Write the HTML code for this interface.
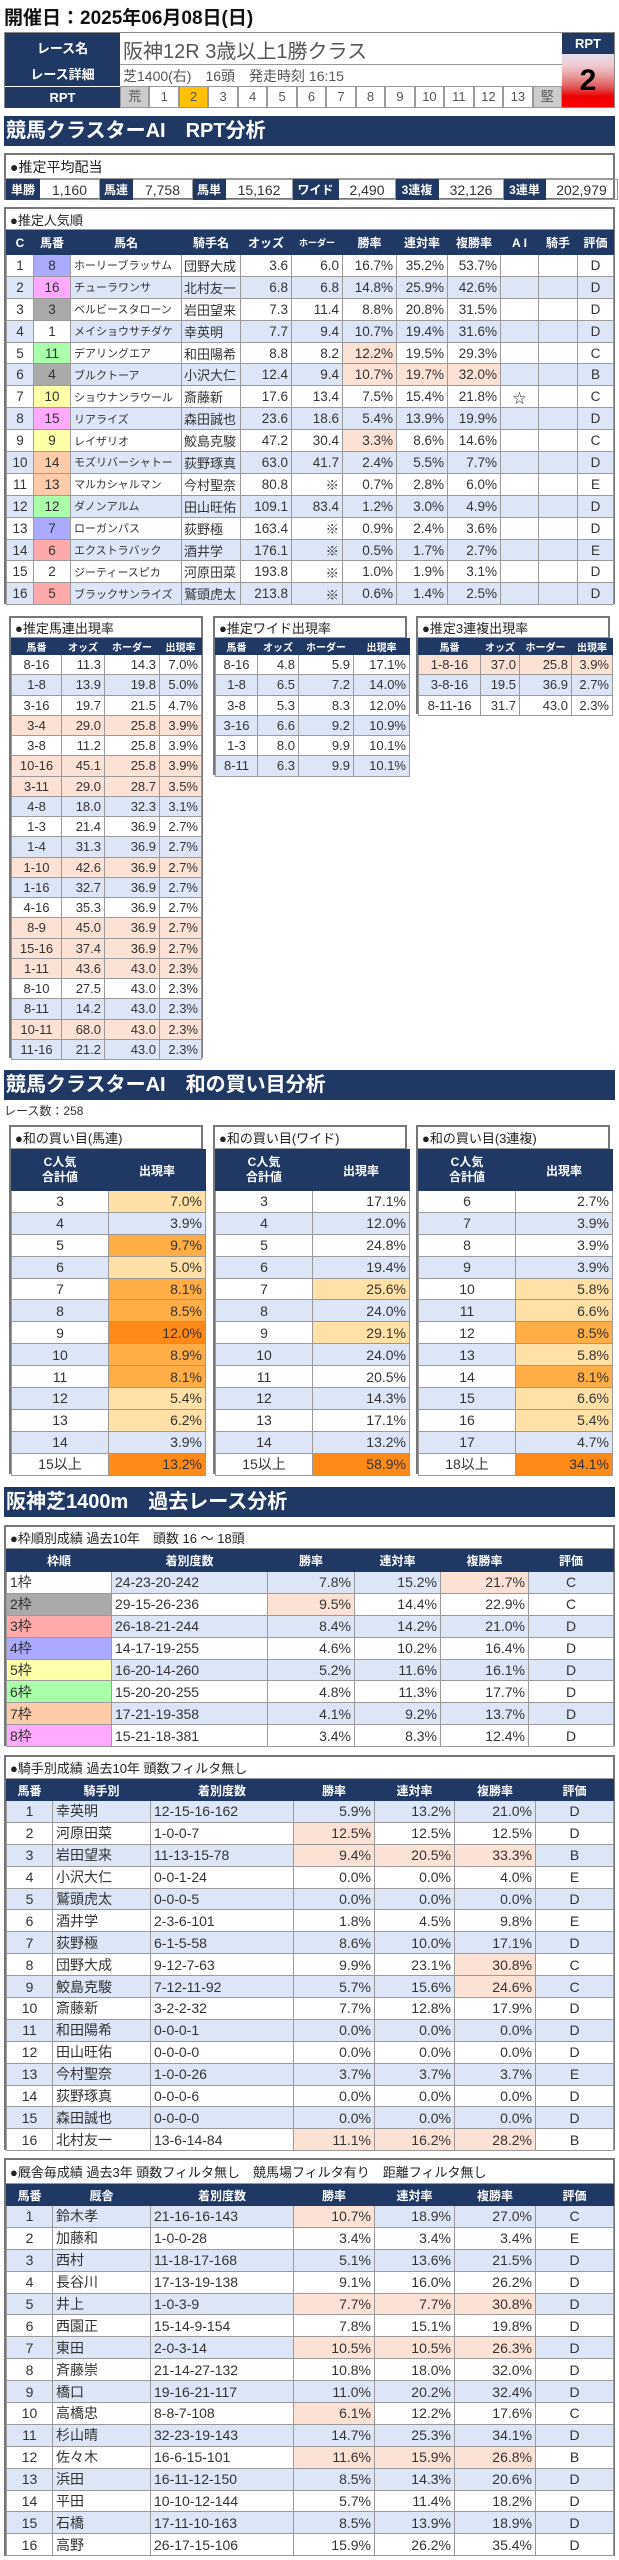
<!DOCTYPE html>
<html><head><meta charset="utf-8"><style>
body{margin:0;width:619px;height:2560px;position:relative;font-family:"Liberation Sans","Noto Sans CJK JP",sans-serif;background:#fff;color:#333;overflow:hidden}
.a{position:absolute}
table{border-collapse:collapse;table-layout:fixed;width:100%}
td,th{border:1px solid #9a9a9a;padding:0 3px;white-space:nowrap;overflow:hidden;font-size:14px;text-align:right;font-weight:normal}
th{background:#203864;color:#fff;font-weight:bold;font-size:12px;text-align:center;border-color:#203864}
.box{position:absolute;border:2px solid #777;box-sizing:border-box;background:#fff}
.t{font-size:13px;padding-left:4px;box-sizing:border-box;border-bottom:1px solid #999;color:#222;display:flex;align-items:center}
.bar{position:absolute;left:4px;width:611px;height:30px;background:#203864;color:#fff;font-weight:bold;font-size:20px;line-height:30px;padding-left:2px;box-sizing:border-box}
.c{text-align:center}.l{text-align:left}
.b td{background:#dce6f7}.w td{background:#fff}
td.s{background:#fbe2d5}
td.f1{background:#fff}td.f2{background:#aaa}td.f3{background:#faa}td.f4{background:#aaf}td.f5{background:#ffa}td.f6{background:#afa}td.f7{background:#fca}td.f8{background:#faf}
td.p{background:#ffe0a6}td.m{background:#ffad47}td.d{background:#ff8a18}
.mt td{font-size:13.5px}
.mt td.l{font-size:13px;padding:0 2px}
.mt td.n{font-size:11px;text-align:left}
.sm th{font-size:10px}
.sm td{font-size:13px}
</style></head><body>

<div class="a" style="left:4px;top:3px;font-size:19px;font-weight:bold;color:#111">開催日：2025年06月08日(日)</div>

<div class="a" style="left:4px;top:32px;width:611px;height:76px;border:1px solid #888;box-sizing:border-box">
 <div class="a" style="left:0;top:0;width:115px;height:31px;background:#203864;color:#fff;font-weight:bold;font-size:13px;text-align:center;line-height:31px;border-bottom:1px solid #fff">レース名</div>
 <div class="a" style="left:0;top:31px;width:115px;height:22px;background:#203864;color:#fff;font-weight:bold;font-size:13px;text-align:center;line-height:22px;border-bottom:1px solid #fff">レース詳細</div>
 <div class="a" style="left:0;top:54px;width:115px;height:21px;background:#203864;color:#fff;font-weight:bold;font-size:13px;text-align:center;line-height:21px">RPT</div>
 <div class="a" style="left:118px;top:2px;font-size:20px;color:#555">阪神12R 3歳以上1勝クラス</div>
 <div class="a" style="left:115px;top:31px;width:442px;height:0;border-top:1px solid #999"></div>
 <div class="a" style="left:118px;top:33px;font-size:14px;color:#555;white-space:pre">芝1400(右)　16頭　発走時刻 16:15</div>
 <div class="a" style="left:115px;top:53px;width:442px;height:22px;display:flex">
  <div style="flex:1;background:#ccc;border:1px solid #999;font-size:13px;text-align:center;line-height:20px;color:#555">荒</div>
  <div style="flex:1;border:1px solid #999;font-size:13px;text-align:center;line-height:20px;color:#555">1</div>
  <div style="flex:1;background:#ffc000;border:1px solid #999;font-size:13px;text-align:center;line-height:20px;color:#555">2</div>
  <div style="flex:1;border:1px solid #999;font-size:13px;text-align:center;line-height:20px;color:#555">3</div>
  <div style="flex:1;border:1px solid #999;font-size:13px;text-align:center;line-height:20px;color:#555">4</div>
  <div style="flex:1;border:1px solid #999;font-size:13px;text-align:center;line-height:20px;color:#555">5</div>
  <div style="flex:1;border:1px solid #999;font-size:13px;text-align:center;line-height:20px;color:#555">6</div>
  <div style="flex:1;border:1px solid #999;font-size:13px;text-align:center;line-height:20px;color:#555">7</div>
  <div style="flex:1;border:1px solid #999;font-size:13px;text-align:center;line-height:20px;color:#555">8</div>
  <div style="flex:1;border:1px solid #999;font-size:13px;text-align:center;line-height:20px;color:#555">9</div>
  <div style="flex:1;border:1px solid #999;font-size:13px;text-align:center;line-height:20px;color:#555">10</div>
  <div style="flex:1;border:1px solid #999;font-size:13px;text-align:center;line-height:20px;color:#555">11</div>
  <div style="flex:1;border:1px solid #999;font-size:13px;text-align:center;line-height:20px;color:#555">12</div>
  <div style="flex:1;border:1px solid #999;font-size:13px;text-align:center;line-height:20px;color:#555">13</div>
  <div style="flex:1;background:#ccc;border:1px solid #999;font-size:13px;text-align:center;line-height:20px;color:#555">堅</div>
 </div>
 <div class="a" style="left:557px;top:0;width:52px;height:21px;background:#203864;color:#fff;font-weight:bold;font-size:13px;text-align:center;line-height:21px">RPT</div>
 <div class="a" style="left:557px;top:21px;width:52px;height:53px;background:linear-gradient(#e4dcec 0%,#f0c8d0 22%,#e8a0a0 40%,#e05a5a 62%,#ee0000 80%,#ff0000 100%);color:#000;font-weight:bold;font-size:30px;text-align:center;line-height:53px">2</div>
</div>

<div class="bar" style="top:116px">競馬クラスターAI　RPT分析</div>

<div class="box" style="left:4px;top:153px;width:611px;height:47px">
 <div class="t" style="height:24px;font-size:14px">●推定平均配当</div>
 <table style="height:21px"><colgroup><col style="width:33px"><col style="width:60px"><col style="width:33px"><col style="width:60px"><col style="width:33px"><col style="width:67px"><col style="width:46px"><col style="width:57px"><col style="width:43px"><col style="width:65px"><col style="width:42px"><col style="width:72px"></colgroup>
 <tr><th>単勝</th><td class="c" style="font-size:14px">1,160</td><th>馬連</th><td class="c" style="font-size:14px">7,758</td><th>馬単</th><td class="c" style="font-size:14px">15,162</td><th>ワイド</th><td class="c" style="font-size:14px">2,490</td><th>3連複</th><td class="c" style="font-size:14px">32,126</td><th>3連単</th><td class="c" style="font-size:14px">202,979</td></tr></table>
</div>

<div class="box mt" style="left:4px;top:207px;width:611px;height:397px">
 <div class="t" style="height:21px">●推定人気順</div>
 <table><colgroup><col style="width:27px"><col style="width:37px"><col style="width:111px"><col style="width:59px"><col style="width:51px"><col style="width:51px"><col style="width:54px"><col style="width:51px"><col style="width:53px"><col style="width:38px"><col style="width:39px"><col style="width:36px"></colgroup>
 <tr style="height:24px"><th>C</th><th>馬番</th><th>馬名</th><th>騎手名</th><th>オッズ</th><th style="font-size:9px">ホーダー</th><th>勝率</th><th>連対率</th><th>複勝率</th><th>A I</th><th>騎手</th><th>評価</th></tr>
 <tr class="w" style="height:21.9px"><td class="c">1</td><td class="c f4">8</td><td class="n">ホーリーブラッサム</td><td class="l">団野大成</td><td>3.6</td><td>6.0</td><td>16.7%</td><td>35.2%</td><td>53.7%</td><td></td><td></td><td class="c">D</td></tr>
 <tr class="b" style="height:21.9px"><td class="c">2</td><td class="c f8">16</td><td class="n">チューラワンサ</td><td class="l">北村友一</td><td>6.8</td><td>6.8</td><td>14.8%</td><td>25.9%</td><td>42.6%</td><td></td><td></td><td class="c">D</td></tr>
 <tr class="w" style="height:21.9px"><td class="c">3</td><td class="c f2">3</td><td class="n">ベルビースタローン</td><td class="l">岩田望来</td><td>7.3</td><td>11.4</td><td>8.8%</td><td>20.8%</td><td>31.5%</td><td></td><td></td><td class="c">D</td></tr>
 <tr class="b" style="height:21.9px"><td class="c">4</td><td class="c f1">1</td><td class="n">メイショウサチダケ</td><td class="l">幸英明</td><td>7.7</td><td>9.4</td><td>10.7%</td><td>19.4%</td><td>31.6%</td><td></td><td></td><td class="c">D</td></tr>
 <tr class="w" style="height:21.9px"><td class="c">5</td><td class="c f6">11</td><td class="n">デアリングエア</td><td class="l">和田陽希</td><td>8.8</td><td>8.2</td><td class="s">12.2%</td><td>19.5%</td><td>29.3%</td><td></td><td></td><td class="c">C</td></tr>
 <tr class="b" style="height:21.9px"><td class="c">6</td><td class="c f2">4</td><td class="n">ブルクトーア</td><td class="l">小沢大仁</td><td>12.4</td><td>9.4</td><td class="s">10.7%</td><td class="s">19.7%</td><td class="s">32.0%</td><td></td><td></td><td class="c">B</td></tr>
 <tr class="w" style="height:21.9px"><td class="c">7</td><td class="c f5">10</td><td class="n">ショウナンラウール</td><td class="l">斎藤新</td><td>17.6</td><td>13.4</td><td>7.5%</td><td>15.4%</td><td>21.8%</td><td class="c">☆</td><td></td><td class="c">C</td></tr>
 <tr class="b" style="height:21.9px"><td class="c">8</td><td class="c f8">15</td><td class="n">リアライズ</td><td class="l">森田誠也</td><td>23.6</td><td>18.6</td><td>5.4%</td><td>13.9%</td><td>19.9%</td><td></td><td></td><td class="c">D</td></tr>
 <tr class="w" style="height:21.9px"><td class="c">9</td><td class="c f5">9</td><td class="n">レイザリオ</td><td class="l">鮫島克駿</td><td>47.2</td><td>30.4</td><td class="s">3.3%</td><td>8.6%</td><td>14.6%</td><td></td><td></td><td class="c">C</td></tr>
 <tr class="b" style="height:21.9px"><td class="c">10</td><td class="c f7">14</td><td class="n">モズリバーシャトー</td><td class="l">荻野琢真</td><td>63.0</td><td>41.7</td><td>2.4%</td><td>5.5%</td><td>7.7%</td><td></td><td></td><td class="c">D</td></tr>
 <tr class="w" style="height:21.9px"><td class="c">11</td><td class="c f7">13</td><td class="n">マルカシャルマン</td><td class="l">今村聖奈</td><td>80.8</td><td>※</td><td>0.7%</td><td>2.8%</td><td>6.0%</td><td></td><td></td><td class="c">E</td></tr>
 <tr class="b" style="height:21.9px"><td class="c">12</td><td class="c f6">12</td><td class="n">ダノンアルム</td><td class="l">田山旺佑</td><td>109.1</td><td>83.4</td><td>1.2%</td><td>3.0%</td><td>4.9%</td><td></td><td></td><td class="c">D</td></tr>
 <tr class="w" style="height:21.9px"><td class="c">13</td><td class="c f4">7</td><td class="n">ローガンパス</td><td class="l">荻野極</td><td>163.4</td><td>※</td><td>0.9%</td><td>2.4%</td><td>3.6%</td><td></td><td></td><td class="c">D</td></tr>
 <tr class="b" style="height:21.9px"><td class="c">14</td><td class="c f3">6</td><td class="n">エクストラバック</td><td class="l">酒井学</td><td>176.1</td><td>※</td><td>0.5%</td><td>1.7%</td><td>2.7%</td><td></td><td></td><td class="c">E</td></tr>
 <tr class="w" style="height:21.9px"><td class="c">15</td><td class="c f1">2</td><td class="n">ジーティースピカ</td><td class="l">河原田菜</td><td>193.8</td><td>※</td><td>1.0%</td><td>1.9%</td><td>3.1%</td><td></td><td></td><td class="c">D</td></tr>
 <tr class="b" style="height:21.9px"><td class="c">16</td><td class="c f3">5</td><td class="n">ブラックサンライズ</td><td class="l">鷲頭虎太</td><td>213.8</td><td>※</td><td>0.6%</td><td>1.4%</td><td>2.5%</td><td></td><td></td><td class="c">D</td></tr>
 </table>
</div>

<div class="box sm" style="left:9px;top:616px;width:194px;height:442px">
 <div class="t" style="height:20px">●推定馬連出現率</div>
 <table><colgroup><col style="width:50px"><col style="width:43px"><col style="width:55px"><col style="width:42px"></colgroup>
 <tr style="height:16px"><th>馬番</th><th>オッズ</th><th>ホーダー</th><th>出現率</th></tr>
 <tr class="w" style="height:20.25px"><td class="c">8-16</td><td>11.3</td><td>14.3</td><td>7.0%</td></tr>
 <tr class="b" style="height:20.25px"><td class="c">1-8</td><td>13.9</td><td>19.8</td><td>5.0%</td></tr>
 <tr class="w" style="height:20.25px"><td class="c">3-16</td><td>19.7</td><td>21.5</td><td>4.7%</td></tr>
 <tr style="height:20.25px"><td class="c s">3-4</td><td class="s">29.0</td><td class="s">25.8</td><td class="s">3.9%</td></tr>
 <tr class="w" style="height:20.25px"><td class="c">3-8</td><td>11.2</td><td>25.8</td><td>3.9%</td></tr>
 <tr style="height:20.25px"><td class="c s">10-16</td><td class="s">45.1</td><td class="s">25.8</td><td class="s">3.9%</td></tr>
 <tr style="height:20.25px"><td class="c s">3-11</td><td class="s">29.0</td><td class="s">28.7</td><td class="s">3.5%</td></tr>
 <tr class="b" style="height:20.25px"><td class="c">4-8</td><td>18.0</td><td>32.3</td><td>3.1%</td></tr>
 <tr class="w" style="height:20.25px"><td class="c">1-3</td><td>21.4</td><td>36.9</td><td>2.7%</td></tr>
 <tr class="b" style="height:20.25px"><td class="c">1-4</td><td>31.3</td><td>36.9</td><td>2.7%</td></tr>
 <tr style="height:20.25px"><td class="c s">1-10</td><td class="s">42.6</td><td class="s">36.9</td><td class="s">2.7%</td></tr>
 <tr class="b" style="height:20.25px"><td class="c">1-16</td><td>32.7</td><td>36.9</td><td>2.7%</td></tr>
 <tr class="w" style="height:20.25px"><td class="c">4-16</td><td>35.3</td><td>36.9</td><td>2.7%</td></tr>
 <tr style="height:20.25px"><td class="c s">8-9</td><td class="s">45.0</td><td class="s">36.9</td><td class="s">2.7%</td></tr>
 <tr style="height:20.25px"><td class="c s">15-16</td><td class="s">37.4</td><td class="s">36.9</td><td class="s">2.7%</td></tr>
 <tr style="height:20.25px"><td class="c s">1-11</td><td class="s">43.6</td><td class="s">43.0</td><td class="s">2.3%</td></tr>
 <tr class="w" style="height:20.25px"><td class="c">8-10</td><td>27.5</td><td>43.0</td><td>2.3%</td></tr>
 <tr class="b" style="height:20.25px"><td class="c">8-11</td><td>14.2</td><td>43.0</td><td>2.3%</td></tr>
 <tr style="height:20.25px"><td class="c s">10-11</td><td class="s">68.0</td><td class="s">43.0</td><td class="s">2.3%</td></tr>
 <tr class="b" style="height:20.25px"><td class="c">11-16</td><td>21.2</td><td>43.0</td><td>2.3%</td></tr>
 </table>
</div>
<div class="box sm" style="left:213px;top:616px;width:194px;height:159px">
 <div class="t" style="height:20px">●推定ワイド出現率</div>
 <table><colgroup><col style="width:42px"><col style="width:41px"><col style="width:55px"><col style="width:56px"></colgroup>
 <tr style="height:16px"><th>馬番</th><th>オッズ</th><th>ホーダー</th><th>出現率</th></tr>
 <tr class="w" style="height:20.25px"><td class="c">8-16</td><td>4.8</td><td>5.9</td><td>17.1%</td></tr>
 <tr class="b" style="height:20.25px"><td class="c">1-8</td><td>6.5</td><td>7.2</td><td>14.0%</td></tr>
 <tr class="w" style="height:20.25px"><td class="c">3-8</td><td>5.3</td><td>8.3</td><td>12.0%</td></tr>
 <tr class="b" style="height:20.25px"><td class="c">3-16</td><td>6.6</td><td>9.2</td><td>10.9%</td></tr>
 <tr class="w" style="height:20.25px"><td class="c">1-3</td><td>8.0</td><td>9.9</td><td>10.1%</td></tr>
 <tr class="b" style="height:20.25px"><td class="c">8-11</td><td>6.3</td><td>9.9</td><td>10.1%</td></tr>
 </table>
</div>
<div class="box sm" style="left:416px;top:616px;width:194px;height:98px">
 <div class="t" style="height:20px">●推定3連複出現率</div>
 <table><colgroup><col style="width:62px"><col style="width:39px"><col style="width:52px"><col style="width:41px"></colgroup>
 <tr style="height:16px"><th>馬番</th><th>オッズ</th><th>ホーダー</th><th>出現率</th></tr>
 <tr style="height:20.25px"><td class="c s">1-8-16</td><td class="s">37.0</td><td class="s">25.8</td><td class="s">3.9%</td></tr>
 <tr class="b" style="height:20.25px"><td class="c">3-8-16</td><td>19.5</td><td>36.9</td><td>2.7%</td></tr>
 <tr class="w" style="height:20.25px"><td class="c">8-11-16</td><td>31.7</td><td>43.0</td><td>2.3%</td></tr>
 </table>
</div>

<div class="bar" style="top:1070px">競馬クラスターAI　和の買い目分析</div>
<div class="a" style="left:4px;top:1102px;font-size:12px;color:#333">レース数：258</div>

<div class="box" style="left:9px;top:1125px;width:194px;height:349px">
 <div class="t" style="height:22px">●和の買い目(馬連)</div>
 <table><colgroup><col style="width:97px"><col style="width:97px"></colgroup>
 <tr style="height:41px"><th style="line-height:15px">C人気<br>合計値</th><th>出現率</th></tr>
 <tr class="w" style="height:21.9px"><td class="c">3</td><td class="p">7.0%</td></tr>
 <tr class="b" style="height:21.9px"><td class="c">4</td><td>3.9%</td></tr>
 <tr class="w" style="height:21.9px"><td class="c">5</td><td class="m">9.7%</td></tr>
 <tr class="b" style="height:21.9px"><td class="c">6</td><td class="p">5.0%</td></tr>
 <tr class="w" style="height:21.9px"><td class="c">7</td><td class="m">8.1%</td></tr>
 <tr class="b" style="height:21.9px"><td class="c">8</td><td class="m">8.5%</td></tr>
 <tr class="w" style="height:21.9px"><td class="c">9</td><td class="d">12.0%</td></tr>
 <tr class="b" style="height:21.9px"><td class="c">10</td><td class="m">8.9%</td></tr>
 <tr class="w" style="height:21.9px"><td class="c">11</td><td class="m">8.1%</td></tr>
 <tr class="b" style="height:21.9px"><td class="c">12</td><td class="p">5.4%</td></tr>
 <tr class="w" style="height:21.9px"><td class="c">13</td><td class="p">6.2%</td></tr>
 <tr class="b" style="height:21.9px"><td class="c">14</td><td>3.9%</td></tr>
 <tr class="w" style="height:21.9px"><td class="c">15以上</td><td class="d">13.2%</td></tr>
 </table>
</div>
<div class="box" style="left:213px;top:1125px;width:194px;height:349px">
 <div class="t" style="height:22px">●和の買い目(ワイド)</div>
 <table><colgroup><col style="width:97px"><col style="width:97px"></colgroup>
 <tr style="height:41px"><th style="line-height:15px">C人気<br>合計値</th><th>出現率</th></tr>
 <tr class="w" style="height:21.9px"><td class="c">3</td><td>17.1%</td></tr>
 <tr class="b" style="height:21.9px"><td class="c">4</td><td>12.0%</td></tr>
 <tr class="w" style="height:21.9px"><td class="c">5</td><td>24.8%</td></tr>
 <tr class="b" style="height:21.9px"><td class="c">6</td><td>19.4%</td></tr>
 <tr class="w" style="height:21.9px"><td class="c">7</td><td class="p">25.6%</td></tr>
 <tr class="b" style="height:21.9px"><td class="c">8</td><td>24.0%</td></tr>
 <tr class="w" style="height:21.9px"><td class="c">9</td><td class="p">29.1%</td></tr>
 <tr class="b" style="height:21.9px"><td class="c">10</td><td>24.0%</td></tr>
 <tr class="w" style="height:21.9px"><td class="c">11</td><td>20.5%</td></tr>
 <tr class="b" style="height:21.9px"><td class="c">12</td><td>14.3%</td></tr>
 <tr class="w" style="height:21.9px"><td class="c">13</td><td>17.1%</td></tr>
 <tr class="b" style="height:21.9px"><td class="c">14</td><td>13.2%</td></tr>
 <tr class="w" style="height:21.9px"><td class="c">15以上</td><td class="d">58.9%</td></tr>
 </table>
</div>
<div class="box" style="left:416px;top:1125px;width:194px;height:349px">
 <div class="t" style="height:22px">●和の買い目(3連複)</div>
 <table><colgroup><col style="width:97px"><col style="width:97px"></colgroup>
 <tr style="height:41px"><th style="line-height:15px">C人気<br>合計値</th><th>出現率</th></tr>
 <tr class="w" style="height:21.9px"><td class="c">6</td><td>2.7%</td></tr>
 <tr class="b" style="height:21.9px"><td class="c">7</td><td>3.9%</td></tr>
 <tr class="w" style="height:21.9px"><td class="c">8</td><td>3.9%</td></tr>
 <tr class="b" style="height:21.9px"><td class="c">9</td><td>3.9%</td></tr>
 <tr class="w" style="height:21.9px"><td class="c">10</td><td class="p">5.8%</td></tr>
 <tr class="b" style="height:21.9px"><td class="c">11</td><td class="p">6.6%</td></tr>
 <tr class="w" style="height:21.9px"><td class="c">12</td><td class="m">8.5%</td></tr>
 <tr class="b" style="height:21.9px"><td class="c">13</td><td class="p">5.8%</td></tr>
 <tr class="w" style="height:21.9px"><td class="c">14</td><td class="m">8.1%</td></tr>
 <tr class="b" style="height:21.9px"><td class="c">15</td><td class="p">6.6%</td></tr>
 <tr class="w" style="height:21.9px"><td class="c">16</td><td class="p">5.4%</td></tr>
 <tr class="b" style="height:21.9px"><td class="c">17</td><td>4.7%</td></tr>
 <tr class="w" style="height:21.9px"><td class="c">18以上</td><td class="d">34.1%</td></tr>
 </table>
</div>

<div class="bar" style="top:1487px">阪神芝1400m　過去レース分析</div>

<div class="box" style="left:4px;top:1525px;width:611px;height:221px">
 <div class="t" style="height:22px">●枠順別成績 過去10年　頭数 16 ～ 18頭</div>
 <table><colgroup><col style="width:105px"><col style="width:156px"><col style="width:87px"><col style="width:86px"><col style="width:88px"><col style="width:85px"></colgroup>
 <tr style="height:22px"><th>枠順</th><th>着別度数</th><th>勝率</th><th>連対率</th><th>複勝率</th><th>評価</th></tr>
 <tr class="b" style="height:21.9px"><td class="l f1">1枠</td><td class="l">24-23-20-242</td><td>7.8%</td><td>15.2%</td><td class="s">21.7%</td><td class="c">C</td></tr>
 <tr class="w" style="height:21.9px"><td class="l f2">2枠</td><td class="l">29-15-26-236</td><td class="s">9.5%</td><td>14.4%</td><td>22.9%</td><td class="c">C</td></tr>
 <tr class="b" style="height:21.9px"><td class="l f3">3枠</td><td class="l">26-18-21-244</td><td>8.4%</td><td>14.2%</td><td>21.0%</td><td class="c">D</td></tr>
 <tr class="w" style="height:21.9px"><td class="l f4">4枠</td><td class="l">14-17-19-255</td><td>4.6%</td><td>10.2%</td><td>16.4%</td><td class="c">D</td></tr>
 <tr class="b" style="height:21.9px"><td class="l f5">5枠</td><td class="l">16-20-14-260</td><td>5.2%</td><td>11.6%</td><td>16.1%</td><td class="c">D</td></tr>
 <tr class="w" style="height:21.9px"><td class="l f6">6枠</td><td class="l">15-20-20-255</td><td>4.8%</td><td>11.3%</td><td>17.7%</td><td class="c">D</td></tr>
 <tr class="b" style="height:21.9px"><td class="l f7">7枠</td><td class="l">17-21-19-358</td><td>4.1%</td><td>9.2%</td><td>13.7%</td><td class="c">D</td></tr>
 <tr class="w" style="height:21.9px"><td class="l f8">8枠</td><td class="l">15-21-18-381</td><td>3.4%</td><td>8.3%</td><td>12.4%</td><td class="c">D</td></tr>
 </table>
</div>

<div class="box" style="left:4px;top:1755px;width:611px;height:395px">
 <div class="t" style="height:22px">●騎手別成績 過去10年 頭数フィルタ無し</div>
 <table><colgroup><col style="width:46px"><col style="width:98px"><col style="width:143px"><col style="width:81px"><col style="width:80px"><col style="width:81px"><col style="width:78px"></colgroup>
 <tr style="height:21px"><th>馬番</th><th>騎手別</th><th>着別度数</th><th>勝率</th><th>連対率</th><th>複勝率</th><th>評価</th></tr>
 <tr class="b" style="height:21.9px"><td class="c">1</td><td class="l">幸英明</td><td class="l">12-15-16-162</td><td>5.9%</td><td>13.2%</td><td>21.0%</td><td class="c">D</td></tr>
 <tr class="w" style="height:21.9px"><td class="c">2</td><td class="l">河原田菜</td><td class="l">1-0-0-7</td><td class="s">12.5%</td><td>12.5%</td><td>12.5%</td><td class="c">D</td></tr>
 <tr class="b" style="height:21.9px"><td class="c">3</td><td class="l">岩田望来</td><td class="l">11-13-15-78</td><td class="s">9.4%</td><td class="s">20.5%</td><td class="s">33.3%</td><td class="c">B</td></tr>
 <tr class="w" style="height:21.9px"><td class="c">4</td><td class="l">小沢大仁</td><td class="l">0-0-1-24</td><td>0.0%</td><td>0.0%</td><td>4.0%</td><td class="c">E</td></tr>
 <tr class="b" style="height:21.9px"><td class="c">5</td><td class="l">鷲頭虎太</td><td class="l">0-0-0-5</td><td>0.0%</td><td>0.0%</td><td>0.0%</td><td class="c">D</td></tr>
 <tr class="w" style="height:21.9px"><td class="c">6</td><td class="l">酒井学</td><td class="l">2-3-6-101</td><td>1.8%</td><td>4.5%</td><td>9.8%</td><td class="c">E</td></tr>
 <tr class="b" style="height:21.9px"><td class="c">7</td><td class="l">荻野極</td><td class="l">6-1-5-58</td><td>8.6%</td><td>10.0%</td><td>17.1%</td><td class="c">D</td></tr>
 <tr class="w" style="height:21.9px"><td class="c">8</td><td class="l">団野大成</td><td class="l">9-12-7-63</td><td>9.9%</td><td>23.1%</td><td class="s">30.8%</td><td class="c">C</td></tr>
 <tr class="b" style="height:21.9px"><td class="c">9</td><td class="l">鮫島克駿</td><td class="l">7-12-11-92</td><td>5.7%</td><td>15.6%</td><td class="s">24.6%</td><td class="c">C</td></tr>
 <tr class="w" style="height:21.9px"><td class="c">10</td><td class="l">斎藤新</td><td class="l">3-2-2-32</td><td>7.7%</td><td>12.8%</td><td>17.9%</td><td class="c">D</td></tr>
 <tr class="b" style="height:21.9px"><td class="c">11</td><td class="l">和田陽希</td><td class="l">0-0-0-1</td><td>0.0%</td><td>0.0%</td><td>0.0%</td><td class="c">D</td></tr>
 <tr class="w" style="height:21.9px"><td class="c">12</td><td class="l">田山旺佑</td><td class="l">0-0-0-0</td><td>0.0%</td><td>0.0%</td><td>0.0%</td><td class="c">D</td></tr>
 <tr class="b" style="height:21.9px"><td class="c">13</td><td class="l">今村聖奈</td><td class="l">1-0-0-26</td><td>3.7%</td><td>3.7%</td><td>3.7%</td><td class="c">E</td></tr>
 <tr class="w" style="height:21.9px"><td class="c">14</td><td class="l">荻野琢真</td><td class="l">0-0-0-6</td><td>0.0%</td><td>0.0%</td><td>0.0%</td><td class="c">D</td></tr>
 <tr class="b" style="height:21.9px"><td class="c">15</td><td class="l">森田誠也</td><td class="l">0-0-0-0</td><td>0.0%</td><td>0.0%</td><td>0.0%</td><td class="c">D</td></tr>
 <tr class="w" style="height:21.9px"><td class="c">16</td><td class="l">北村友一</td><td class="l">13-6-14-84</td><td class="s">11.1%</td><td class="s">16.2%</td><td class="s">28.2%</td><td class="c">B</td></tr>
 </table>
</div>

<div class="box" style="left:4px;top:2158px;width:611px;height:398px">
 <div class="t" style="height:24px">●厩舎毎成績 過去3年 頭数フィルタ無し　競馬場フィルタ有り　距離フィルタ無し</div>
 <table><colgroup><col style="width:46px"><col style="width:98px"><col style="width:143px"><col style="width:81px"><col style="width:80px"><col style="width:81px"><col style="width:78px"></colgroup>
 <tr style="height:21px"><th>馬番</th><th>厩舎</th><th>着別度数</th><th>勝率</th><th>連対率</th><th>複勝率</th><th>評価</th></tr>
 <tr class="b" style="height:21.9px"><td class="c">1</td><td class="l">鈴木孝</td><td class="l">21-16-16-143</td><td class="s">10.7%</td><td>18.9%</td><td>27.0%</td><td class="c">C</td></tr>
 <tr class="w" style="height:21.9px"><td class="c">2</td><td class="l">加藤和</td><td class="l">1-0-0-28</td><td>3.4%</td><td>3.4%</td><td>3.4%</td><td class="c">E</td></tr>
 <tr class="b" style="height:21.9px"><td class="c">3</td><td class="l">西村</td><td class="l">11-18-17-168</td><td>5.1%</td><td>13.6%</td><td>21.5%</td><td class="c">D</td></tr>
 <tr class="w" style="height:21.9px"><td class="c">4</td><td class="l">長谷川</td><td class="l">17-13-19-138</td><td>9.1%</td><td>16.0%</td><td>26.2%</td><td class="c">D</td></tr>
 <tr class="b" style="height:21.9px"><td class="c">5</td><td class="l">井上</td><td class="l">1-0-3-9</td><td class="s">7.7%</td><td class="s">7.7%</td><td class="s">30.8%</td><td class="c">D</td></tr>
 <tr class="w" style="height:21.9px"><td class="c">6</td><td class="l">西園正</td><td class="l">15-14-9-154</td><td>7.8%</td><td>15.1%</td><td>19.8%</td><td class="c">D</td></tr>
 <tr class="b" style="height:21.9px"><td class="c">7</td><td class="l">東田</td><td class="l">2-0-3-14</td><td class="s">10.5%</td><td class="s">10.5%</td><td class="s">26.3%</td><td class="c">D</td></tr>
 <tr class="w" style="height:21.9px"><td class="c">8</td><td class="l">斉藤崇</td><td class="l">21-14-27-132</td><td>10.8%</td><td>18.0%</td><td>32.0%</td><td class="c">D</td></tr>
 <tr class="b" style="height:21.9px"><td class="c">9</td><td class="l">橋口</td><td class="l">19-16-21-117</td><td>11.0%</td><td>20.2%</td><td>32.4%</td><td class="c">D</td></tr>
 <tr class="w" style="height:21.9px"><td class="c">10</td><td class="l">高橋忠</td><td class="l">8-8-7-108</td><td class="s">6.1%</td><td>12.2%</td><td>17.6%</td><td class="c">C</td></tr>
 <tr class="b" style="height:21.9px"><td class="c">11</td><td class="l">杉山晴</td><td class="l">32-23-19-143</td><td>14.7%</td><td>25.3%</td><td>34.1%</td><td class="c">D</td></tr>
 <tr class="w" style="height:21.9px"><td class="c">12</td><td class="l">佐々木</td><td class="l">16-6-15-101</td><td class="s">11.6%</td><td class="s">15.9%</td><td class="s">26.8%</td><td class="c">B</td></tr>
 <tr class="b" style="height:21.9px"><td class="c">13</td><td class="l">浜田</td><td class="l">16-11-12-150</td><td>8.5%</td><td>14.3%</td><td>20.6%</td><td class="c">D</td></tr>
 <tr class="w" style="height:21.9px"><td class="c">14</td><td class="l">平田</td><td class="l">10-10-12-144</td><td>5.7%</td><td>11.4%</td><td>18.2%</td><td class="c">D</td></tr>
 <tr class="b" style="height:21.9px"><td class="c">15</td><td class="l">石橋</td><td class="l">17-11-10-163</td><td>8.5%</td><td>13.9%</td><td>18.9%</td><td class="c">D</td></tr>
 <tr class="w" style="height:21.9px"><td class="c">16</td><td class="l">高野</td><td class="l">26-17-15-106</td><td>15.9%</td><td>26.2%</td><td>35.4%</td><td class="c">D</td></tr>
 </table>
</div>
</body></html>
